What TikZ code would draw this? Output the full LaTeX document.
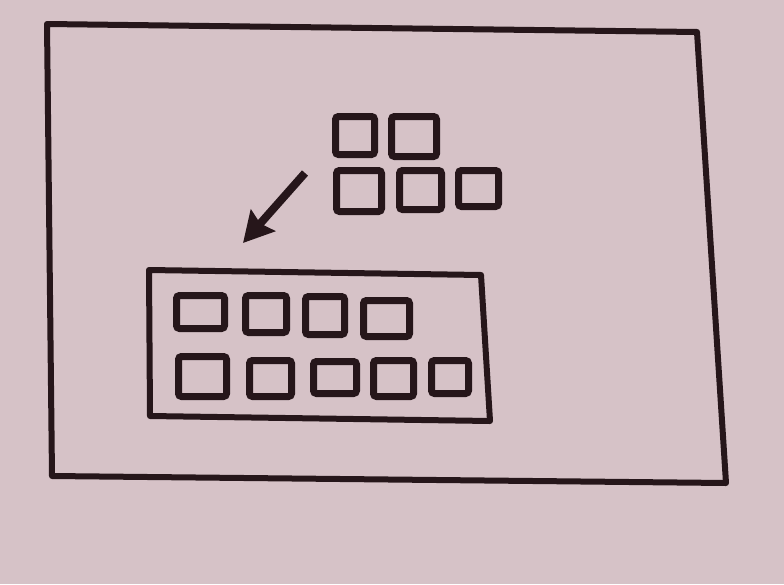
\documentclass[tikz,border=0pt]{standalone}
\usetikzlibrary{arrows.meta}
\definecolor{paper}{RGB}{214,194,199}
\definecolor{ink}{RGB}{38,22,26}
\tikzset{
  sq/.style={draw=ink, line width=7pt, rounded corners=3pt, inner sep=0pt},
  frame/.style={draw=ink, line width=6pt, line join=round},
  movearrow/.style={draw=ink, line width=8pt, -{Stealth[length=30pt,width=32pt,inset=4pt]}}
}
\begin{document}
\begin{tikzpicture}[x=1pt,y=-1pt]
\useasboundingbox[fill=paper] (0,0) rectangle (784,584);
% outer frame
\coordinate (o1) at (47,24);
\coordinate (o2) at (697,32);
\coordinate (o3) at (726,483);
\coordinate (o4) at (52,476);
\draw[frame] (o1) -- (o2) -- (o3) -- (o4) -- cycle;
% inner frame
\coordinate (i1) at (149,270);
\coordinate (i2) at (481,275);
\coordinate (i3) at (490,421);
\coordinate (i4) at (150,416);
\draw[frame] (i1) -- (i2) -- (i3) -- (i4) -- cycle;
% top group
\node[sq, minimum width=39pt, minimum height=38pt] (ta) at (355,135.5) {};
\node[sq, minimum width=45pt, minimum height=40pt] (tb) at (414,136.5) {};
\node[sq, minimum width=45pt, minimum height=41pt] (tc) at (359,191) {};
\node[sq, minimum width=42pt, minimum height=39pt] (td) at (420.5,190) {};
\node[sq, minimum width=40pt, minimum height=36pt] (te) at (478.5,188.5) {};
% inner row 1
\node[sq, minimum width=48pt, minimum height=33pt] (r1a) at (200.5,312) {};
\node[sq, minimum width=41pt, minimum height=37pt] (r1b) at (266,314) {};
\node[sq, minimum width=39pt, minimum height=38pt] (r1c) at (325,315.5) {};
\node[sq, minimum width=46pt, minimum height=36pt] (r1d) at (386.5,318.5) {};
% inner row 2
\node[sq, minimum width=48pt, minimum height=40pt] (r2a) at (202.5,376.5) {};
\node[sq, minimum width=42pt, minimum height=36pt] (r2b) at (270.5,378.5) {};
\node[sq, minimum width=43pt, minimum height=32pt] (r2c) at (335,377.5) {};
\node[sq, minimum width=40pt, minimum height=36pt] (r2d) at (393.5,378.5) {};
\node[sq, minimum width=37pt, minimum height=33pt] (r2e) at (450,377) {};
% arrow
\coordinate (as) at (305,173);
\coordinate (ae) at (243,243);
\draw[movearrow] (as) -- (ae);
\end{tikzpicture}
\end{document}
